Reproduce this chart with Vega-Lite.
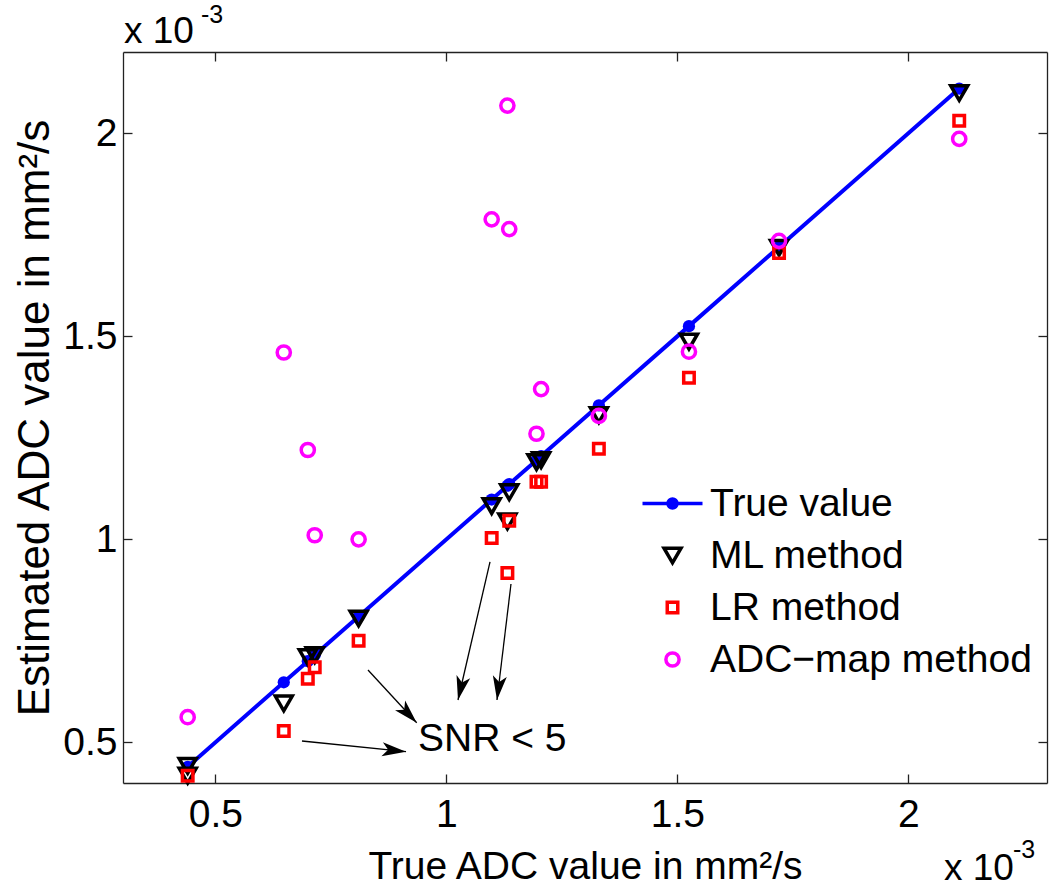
{
  "$schema": "https://vega.github.io/schema/vega-lite/v6.json",
  "width": 924,
  "height": 731,
  "autosize": {"type": "none"},
  "padding": {"left": 123, "top": 52, "right": 3, "bottom": 102},
  "background": "white",
  "config": {
    "font": "Liberation Sans",
    "view": {"stroke": null},
    "axis": {
      "grid": false,
      "domainColor": "#222222",
      "domainWidth": 1.3,
      "tickColor": "#222222",
      "tickWidth": 1.3,
      "tickSize": -9,
      "labelFont": "Liberation Sans",
      "labelFontSize": 39,
      "labelColor": "#000000",
      "titleFont": "Liberation Sans",
      "titleFontSize": 39,
      "titleFontWeight": "normal",
      "titleColor": "#000000"
    },
    "legend": {
      "padding": 0,
      "symbolSize": 400,
      "symbolStrokeWidth": 3.5,
      "labelFont": "Liberation Sans",
      "labelFontSize": 39,
      "labelColor": "#000000",
      "labelOffset": 18,
      "rowPadding": 12,
      "labelLimit": 500
    }
  },
  "datasets": {
    "points": [
      {"method": "True value", "x": 0.44, "y": 0.44},
      {"method": "True value", "x": 0.648, "y": 0.648},
      {"method": "True value", "x": 0.70, "y": 0.70},
      {"method": "True value", "x": 0.715, "y": 0.715},
      {"method": "True value", "x": 0.81, "y": 0.81},
      {"method": "True value", "x": 1.098, "y": 1.098},
      {"method": "True value", "x": 1.132, "y": 1.132},
      {"method": "True value", "x": 1.136, "y": 1.136},
      {"method": "True value", "x": 1.195, "y": 1.195},
      {"method": "True value", "x": 1.205, "y": 1.205},
      {"method": "True value", "x": 1.33, "y": 1.33},
      {"method": "True value", "x": 1.525, "y": 1.525},
      {"method": "True value", "x": 1.72, "y": 1.72},
      {"method": "True value", "x": 2.11, "y": 2.11},
      {"method": "ML method", "x": 0.44, "y": 0.442},
      {"method": "ML method", "x": 0.44, "y": 0.418},
      {"method": "ML method", "x": 0.648, "y": 0.596},
      {"method": "ML method", "x": 0.70, "y": 0.71},
      {"method": "ML method", "x": 0.715, "y": 0.715},
      {"method": "ML method", "x": 0.81, "y": 0.805},
      {"method": "ML method", "x": 1.098, "y": 1.082},
      {"method": "ML method", "x": 1.132, "y": 1.044},
      {"method": "ML method", "x": 1.136, "y": 1.116},
      {"method": "ML method", "x": 1.195, "y": 1.19},
      {"method": "ML method", "x": 1.205, "y": 1.195},
      {"method": "ML method", "x": 1.33, "y": 1.306},
      {"method": "ML method", "x": 1.525, "y": 1.487},
      {"method": "ML method", "x": 1.72, "y": 1.718},
      {"method": "ML method", "x": 2.11, "y": 2.099},
      {"method": "LR method", "x": 0.44, "y": 0.418},
      {"method": "LR method", "x": 0.648, "y": 0.528},
      {"method": "LR method", "x": 0.70, "y": 0.657},
      {"method": "LR method", "x": 0.715, "y": 0.685},
      {"method": "LR method", "x": 0.81, "y": 0.75},
      {"method": "LR method", "x": 1.098, "y": 1.003},
      {"method": "LR method", "x": 1.132, "y": 0.917},
      {"method": "LR method", "x": 1.136, "y": 1.046},
      {"method": "LR method", "x": 1.195, "y": 1.142},
      {"method": "LR method", "x": 1.205, "y": 1.142},
      {"method": "LR method", "x": 1.33, "y": 1.223},
      {"method": "LR method", "x": 1.525, "y": 1.398},
      {"method": "LR method", "x": 1.72, "y": 1.705},
      {"method": "LR method", "x": 2.11, "y": 2.031},
      {"method": "ADC−map method", "x": 0.44, "y": 0.562},
      {"method": "ADC−map method", "x": 0.648, "y": 1.46},
      {"method": "ADC−map method", "x": 0.70, "y": 1.22},
      {"method": "ADC−map method", "x": 0.715, "y": 1.01},
      {"method": "ADC−map method", "x": 0.81, "y": 1.0},
      {"method": "ADC−map method", "x": 1.098, "y": 1.788},
      {"method": "ADC−map method", "x": 1.132, "y": 2.068},
      {"method": "ADC−map method", "x": 1.136, "y": 1.764},
      {"method": "ADC−map method", "x": 1.195, "y": 1.26},
      {"method": "ADC−map method", "x": 1.205, "y": 1.37},
      {"method": "ADC−map method", "x": 1.33, "y": 1.304},
      {"method": "ADC−map method", "x": 1.525, "y": 1.462},
      {"method": "ADC−map method", "x": 1.72, "y": 1.735},
      {"method": "ADC−map method", "x": 2.11, "y": 1.986}
    ],
    "arrows": [
      {"arrow": "a1", "x": 0.6874, "y": 0.5034, "x2": 0.9126, "y2": 0.4771},
      {"arrow": "a2", "x": 0.8303, "y": 0.6783, "x2": 0.9357, "y2": 0.5485},
      {"arrow": "a3", "x": 1.0944, "y": 0.9443, "x2": 1.0251, "y2": 0.6044},
      {"arrow": "a4", "x": 1.1398, "y": 0.8901, "x2": 1.1095, "y2": 0.6044}
    ],
    "notes": [
      {"label": "SNR < 5", "size": "big", "x": 0.9385, "y": 0.4788},
      {"label": "x 10", "size": "mid", "x": 0.302, "y": 2.2227},
      {"label": "-3", "size": "small", "x": 0.4688, "y": 2.272},
      {"label": "x 10", "size": "mid", "x": 2.077, "y": 0.1611},
      {"label": "-3", "size": "small", "x": 2.2264, "y": 0.2153}
    ]
  },
  "layer": [
    {
      "data": {"name": "points"},
      "transform": [{"filter": "datum.method === 'True value'"}],
      "mark": {"type": "line", "color": "#0000ff", "strokeWidth": 4},
      "encoding": {
        "x": {
          "field": "x", "type": "quantitative",
          "scale": {"domain": [0.3, 2.3], "nice": false, "zero": false},
          "axis": {"orient": "bottom", "values": [0.5, 1, 1.5, 2], "format": "~g", "labelPadding": 21, "title": "True ADC value in mm²/s", "titlePadding": 13}
        },
        "y": {
          "field": "y", "type": "quantitative",
          "scale": {"domain": [0.4, 2.2], "nice": false, "zero": false},
          "axis": {"orient": "left", "values": [0.5, 1, 1.5, 2], "format": "~g", "labelPadding": 15, "title": "Estimated ADC value in mm²/s", "titlePadding": 5, "titleFontSize": 44}
        }
      }
    },
    {
      "data": {"name": "points"},
      "transform": [{"filter": "datum.method === 'True value'"}],
      "mark": {"type": "point", "shape": "circle", "filled": true, "size": 150, "color": "#0000ff", "strokeWidth": 0, "opacity": 1},
      "encoding": {
        "x": {"field": "x", "type": "quantitative", "axis": null},
        "y": {"field": "y", "type": "quantitative", "axis": null}
      }
    },
    {
      "data": {"name": "points"},
      "transform": [{"filter": "datum.method !== 'True value'"}],
      "mark": {"type": "point", "size": 400, "strokeWidth": 3.5, "opacity": 1},
      "encoding": {
        "x": {"field": "x", "type": "quantitative", "axis": {"orient": "top", "values": [0.5, 1, 1.5, 2], "labels": false, "title": null}},
        "y": {"field": "y", "type": "quantitative", "axis": {"orient": "right", "values": [0.5, 1, 1.5, 2], "labels": false, "title": null}},
        "shape": {
          "field": "method", "type": "nominal",
          "scale": {
            "domain": ["True value", "ML method", "LR method", "ADC−map method"],
            "range": [
              "M-3,0L3,0M0.45,0A0.45,0.45,0,1,1,-0.45,0A0.45,0.45,0,1,1,0.45,0Z",
              "M-0.85,-0.735L0.85,-0.735L0,0.735Z",
              "M-0.525,-0.525L0.525,-0.525L0.525,0.525L-0.525,0.525Z",
              "M0.66,0A0.66,0.66,0,1,1,-0.66,0A0.66,0.66,0,1,1,0.66,0Z"
            ]
          },
          "legend": {"title": null, "orient": "none", "legendX": 530, "legendY": 432}
        },
        "stroke": {
          "field": "method", "type": "nominal",
          "scale": {"domain": ["True value", "ML method", "LR method", "ADC−map method"], "range": ["#0000ff", "#000000", "#ff0000", "#ff00ff"]},
          "legend": {"title": null, "orient": "none", "legendX": 530, "legendY": 432}
        },
        "fill": {
          "field": "method", "type": "nominal",
          "scale": {"domain": ["True value", "ML method", "LR method", "ADC−map method"], "range": ["#0000ff", "transparent", "transparent", "transparent"]},
          "legend": {"title": null, "orient": "none", "legendX": 530, "legendY": 432}
        }
      }
    },
    {
      "data": {"name": "arrows"},
      "mark": {"type": "rule", "color": "#000000", "strokeWidth": 1.3},
      "encoding": {
        "x": {"field": "x", "type": "quantitative", "axis": null},
        "y": {"field": "y", "type": "quantitative", "axis": null},
        "x2": {"field": "x2"},
        "y2": {"field": "y2"}
      }
    },
    {
      "data": {"name": "arrows"},
      "transform": [{"filter": "datum.arrow === 'a1'"}],
      "mark": {"type": "point", "filled": true, "size": 400, "strokeWidth": 0, "color": "#000000", "opacity": 1, "shape": "M0,0L-2.459,0.450L-1.790,-0.185L-2.315,-0.943Z"},
      "encoding": {
        "x": {"field": "x2", "type": "quantitative", "axis": null},
        "y": {"field": "y2", "type": "quantitative", "axis": null}
      }
    },
    {
      "data": {"name": "arrows"},
      "transform": [{"filter": "datum.arrow === 'a2'"}],
      "mark": {"type": "point", "filled": true, "size": 400, "strokeWidth": 0, "color": "#000000", "opacity": 1, "shape": "M0,0L-2.166,-1.248L-1.246,-1.299L-1.156,-2.217Z"},
      "encoding": {
        "x": {"field": "x2", "type": "quantitative", "axis": null},
        "y": {"field": "y2", "type": "quantitative", "axis": null}
      }
    },
    {
      "data": {"name": "arrows"},
      "transform": [{"filter": "datum.arrow === 'a3'"}],
      "mark": {"type": "point", "filled": true, "size": 400, "strokeWidth": 0, "color": "#000000", "opacity": 1, "shape": "M0,0L-0.146,-2.496L0.402,-1.755L1.218,-2.184Z"},
      "encoding": {
        "x": {"field": "x2", "type": "quantitative", "axis": null},
        "y": {"field": "y2", "type": "quantitative", "axis": null}
      }
    },
    {
      "data": {"name": "arrows"},
      "transform": [{"filter": "datum.arrow === 'a4'"}],
      "mark": {"type": "point", "filled": true, "size": 400, "strokeWidth": 0, "color": "#000000", "opacity": 1, "shape": "M0,0L-0.411,-2.466L0.213,-1.787L0.979,-2.300Z"},
      "encoding": {
        "x": {"field": "x2", "type": "quantitative", "axis": null},
        "y": {"field": "y2", "type": "quantitative", "axis": null}
      }
    },
    {
      "data": {"name": "notes"},
      "mark": {"type": "text", "align": "left", "baseline": "alphabetic", "color": "#000000"},
      "encoding": {
        "text": {"field": "label"},
        "x": {"field": "x", "type": "quantitative", "axis": null},
        "y": {"field": "y", "type": "quantitative", "axis": null},
        "size": {"field": "size", "type": "nominal", "legend": null, "scale": {"type": "ordinal", "domain": ["big", "mid", "small"], "range": [39, 37, 25]}}
      }
    }
  ],
  "resolve": {
    "axis": {"x": "independent", "y": "independent"}
  }
}
